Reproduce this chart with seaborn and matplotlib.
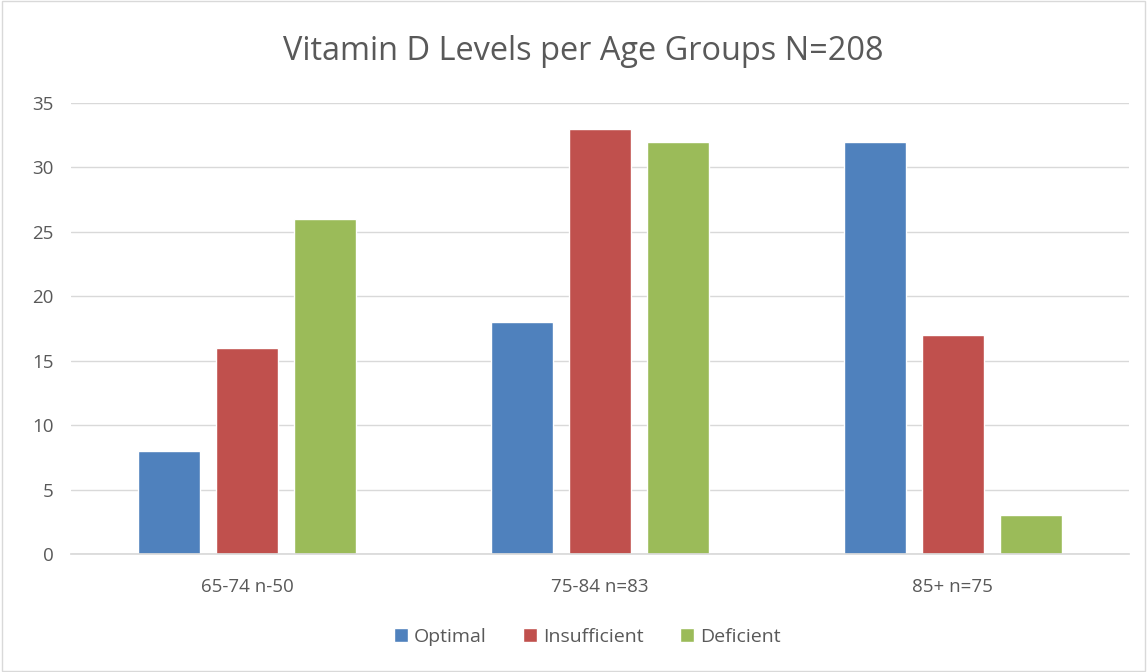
import matplotlib
matplotlib.use("Agg")
import matplotlib.pyplot as plt
import seaborn as sns
import pandas as pd
from matplotlib.patches import Rectangle

categories = ["65-74 n-50", "75-84 n=83", "85+ n=75"]
series = ["Optimal", "Insufficient", "Deficient"]
optimal = [8, 18, 32]
insufficient = [16, 33, 17]
deficient = [26, 32, 3]
yticks = [0, 5, 10, 15, 20, 25, 30, 35]
colors = ["#4F81BD", "#C0504D", "#9BBB59"]

rows = []
for s, vals in zip(series, [optimal, insufficient, deficient]):
    for c, v in zip(categories, vals):
        rows.append({"Age": c, "Level": s, "Count": v})
df = pd.DataFrame(rows)

sns.set_theme(style="white")
plt.rcParams['font.family'] = ['Open Sans', 'DejaVu Sans']

fig = plt.figure(figsize=(11.47, 6.72), dpi=100)
ax = fig.add_axes([0.0615, 0.1756, 0.923, 0.6711])
sns.barplot(data=df, x="Age", y="Count", hue="Level", palette=colors,
            order=categories, hue_order=series, width=0.663, gap=0.205,
            saturation=1, ax=ax, legend=True)

ax.set_ylim(0, 35)
ax.set_yticks(yticks)
ax.set_xlim(-0.5, 2.5)
ax.yaxis.grid(True, color="#D9D9D9", linewidth=1)
ax.set_axisbelow(True)
for s in ["top", "right", "left"]:
    ax.spines[s].set_visible(False)
ax.spines["bottom"].set_color("#D9D9D9")
ax.tick_params(axis="x", colors="#595959", labelsize=13.5, length=0, pad=17)
ax.tick_params(axis="y", colors="#595959", labelsize=13.5, length=0, pad=12)
ax.set_xlabel("")
ax.set_ylabel("")

ax.legend(loc="center", bbox_to_anchor=(0.488, -0.184), ncol=3, frameon=False,
          fontsize=14, handlelength=0.7, handleheight=0.7, handletextpad=0.3,
          columnspacing=1.9, labelcolor="#595959")

fig.text(0.5087, 0.924, "Vitamin D Levels per Age Groups N=208", ha="center", va="center",
         fontsize=23.4, color="#595959")

fig.patches.append(Rectangle((0.002, 0.002), 0.996, 0.996, transform=fig.transFigure,
                             fill=False, edgecolor="#D9D9D9", linewidth=1))

fig.savefig("out.png", dpi=100)
